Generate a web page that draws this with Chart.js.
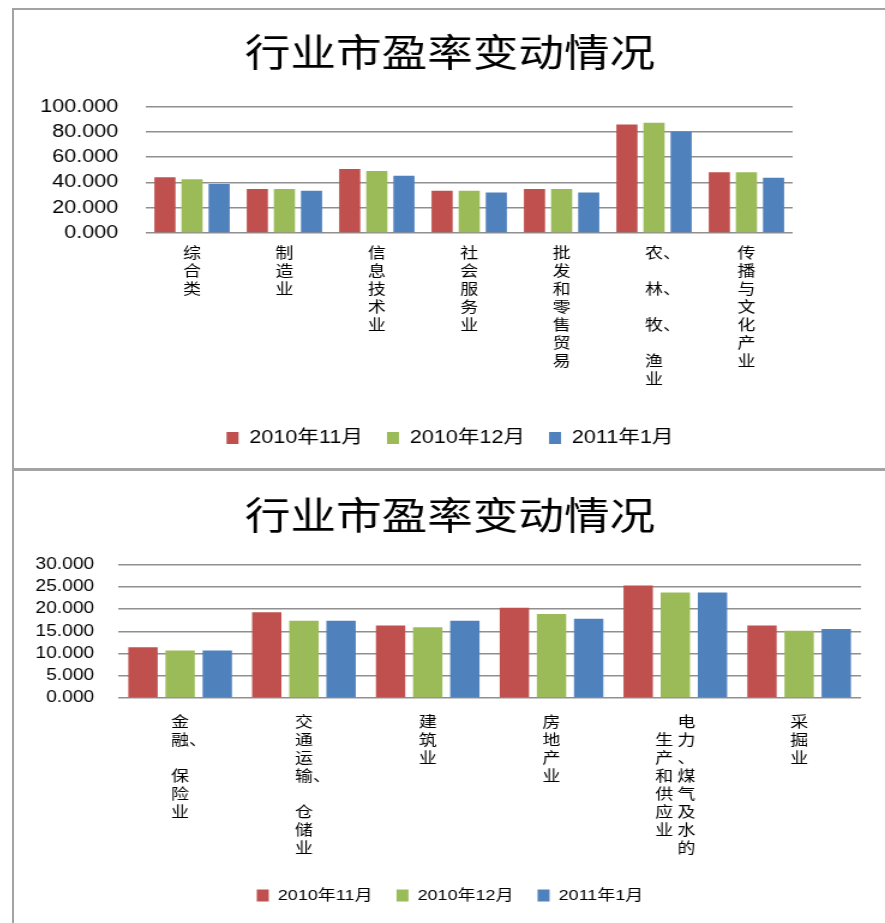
<!DOCTYPE html>
<html>
<head>
<meta charset="utf-8">
<script src="https://cdn.jsdelivr.net/npm/chart.js@4"></script>
<style>
  html, body { margin: 0; padding: 0; background: #fff; overflow: hidden; }
  body { width: 885px; height: 923px; position: relative; }
  .panel { position: absolute; left: 12px; width: 900px; border: 2px solid #a3a3a3; box-sizing: border-box; }
  #panelTop { top: 8px; height: 462px; }
  #panelBottom { top: 469px; height: 480px; }
  canvas { position: absolute; left: 15px; transform: scaleX(1.2); transform-origin: 0 0; }
  #chartTop { top: 11px; }
  #chartBottom { top: 472px; }
</style>
</head>
<body>
<div class="panel" id="panelTop"></div>
<div class="panel" id="panelBottom"></div>
<canvas id="chartTop" width="725" height="456"></canvas>
<canvas id="chartBottom" width="725" height="451"></canvas>
<script>
// 数据
const seriesNames = ['2010年11月', '2010年12月', '2011年1月'];
const seriesColors = ['#C0504D', '#9BBB59', '#4F81BD'];

const industriesTop = ['综合类', '制造业', '信息技术业', '社会服务业', '批发和零售贸易', '农、林、牧、渔业', '传播与文化产业'];
const peNov2010Top = [44.1, 34.8, 50.7, 33.4, 34.8, 85.9, 48.0];
const peDec2010Top = [42.5, 34.8, 49.1, 33.4, 34.8, 87.3, 48.0];
const peJan2011Top = [38.7, 33.4, 45.3, 32.1, 32.1, 80.1, 43.8];
const yTicksTop = [0, 20, 40, 60, 80, 100];

const industriesBottom = ['金融、保险业', '交通运输、仓储业', '建筑业', '房地产业', '电力、煤气及水的生产和供应业', '采掘业'];
const peNov2010Bottom = [11.4, 19.3, 16.3, 20.3, 25.3, 16.3];
const peDec2010Bottom = [10.7, 17.4, 15.9, 18.9, 23.7, 15.1];
const peJan2011Bottom = [10.7, 17.4, 17.4, 17.8, 23.7, 15.5];
const yTicksBottom = [0, 5, 10, 15, 20, 25, 30];

const FONT = '"Liberation Sans", "Noto Sans CJK SC", sans-serif';
const CJK = '"Noto Sans CJK SC", sans-serif';

// 竖排文字: 每个字一行, 超过 maxRows 时向左换列
function verticalLines(name, maxRows) {
    const cells = Array.from(name);
    if (cells.length <= maxRows) {
        return cells.map((c, i) => {
            if (c === '、') return '';
            return cells[i + 1] === '、' ? '\u3000' + c + '、' : c;
        });
    }
    const cols = [];
    for (let i = 0; i < cells.length; i += maxRows) cols.push(cells.slice(i, i + maxRows));
    const rows = [];
    for (let r = 0; r < maxRows; r++) {
        const parts = [];
        for (let k = cols.length - 1; k >= 0; k--) {
            const off = Math.floor((maxRows - cols[k].length) / 2);
            parts.push(cols[k][r - off] || '\u3000');
        }
        rows.push(parts.join(' '));
    }
    return rows;
}

function buildChart(canvasId, cfg) {
    const ctx = document.getElementById(canvasId).getContext('2d');
    return new Chart(ctx, {
        type: 'bar',
        data: {
            labels: cfg.categories.map(n => verticalLines(n, 8)),
            datasets: cfg.series.map((vals, i) => ({
                label: seriesNames[i],
                data: vals,
                backgroundColor: seriesColors[i],
                borderWidth: 0,
                barPercentage: cfg.barPct,
                categoryPercentage: cfg.catPct
            }))
        },
        options: {
            responsive: false,
            animation: false,
            devicePixelRatio: 1,
            layout: { padding: { left: 0, right: 0, top: 0, bottom: 10 } },
            plugins: {
                title: {
                    display: true,
                    text: '行业市盈率变动情况',
                    color: '#000',
                    font: { family: CJK, size: 38, weight: 'normal' },
                    padding: { top: cfg.titleTop, bottom: cfg.titleBottom }
                },
                legend: {
                    position: 'bottom',
                    labels: {
                        color: '#000',
                        font: { family: FONT, size: cfg.legendSize },
                        boxWidth: 10,
                        boxHeight: 12,
                        padding: 20
                    }
                },
                tooltip: { enabled: false }
            },
            scales: {
                x: {
                    grid: { display: false, drawTicks: false },
                    border: { display: false },
                    ticks: {
                        color: '#000',
                        font: { family: CJK, size: 15, lineHeight: 1.2 },
                        autoSkip: false,
                        maxRotation: 0,
                        minRotation: 0,
                        padding: cfg.xPad
                    },
                    afterFit: s => { s.height = cfg.xHeight; }
                },
                y: {
                    min: cfg.yTicks[0],
                    max: cfg.yTicks[cfg.yTicks.length - 1],
                    afterBuildTicks: s => { s.ticks = cfg.yTicks.map(v => ({ value: v })); },
                    grid: { color: '#8f8f8f', lineWidth: 1.5, drawTicks: false },
                    border: { display: false },
                    ticks: {
                        color: '#000',
                        font: { family: FONT, size: cfg.yTickSize },
                        padding: cfg.yPad,
                        callback: v => Number(v).toFixed(3)
                    },
                    afterFit: s => { s.width = cfg.yWidth; }
                },
                // 右侧留白 (Excel 图表区右边的空白)
                yRight: {
                    type: 'linear',
                    position: 'right',
                    grid: { display: false, drawTicks: false },
                    border: { display: false },
                    ticks: { display: false },
                    afterFit: s => { s.width = cfg.padRight; }
                }
            }
        }
    });
}

buildChart('chartTop', {
    categories: industriesTop,
    series: [peNov2010Top, peDec2010Top, peJan2011Top],
    yTicks: yTicksTop,
    barPct: 0.78, catPct: 0.88,
    padRight: 77,
    titleTop: 18, titleBottom: 32,
    legendSize: 18,
    xPad: 10, xHeight: 176,
    yTickSize: 18, yPad: 23, yWidth: 109
});

buildChart('chartBottom', {
    categories: industriesBottom,
    series: [peNov2010Bottom, peDec2010Bottom, peJan2011Bottom],
    yTicks: yTicksBottom,
    barPct: 0.79, catPct: 0.9,
    padRight: 20,
    titleTop: 20, titleBottom: 27,
    legendSize: 15,
    xPad: 14, xHeight: 170,
    yTickSize: 16, yPad: 20, yWidth: 86
});
</script>
</body>
</html>
